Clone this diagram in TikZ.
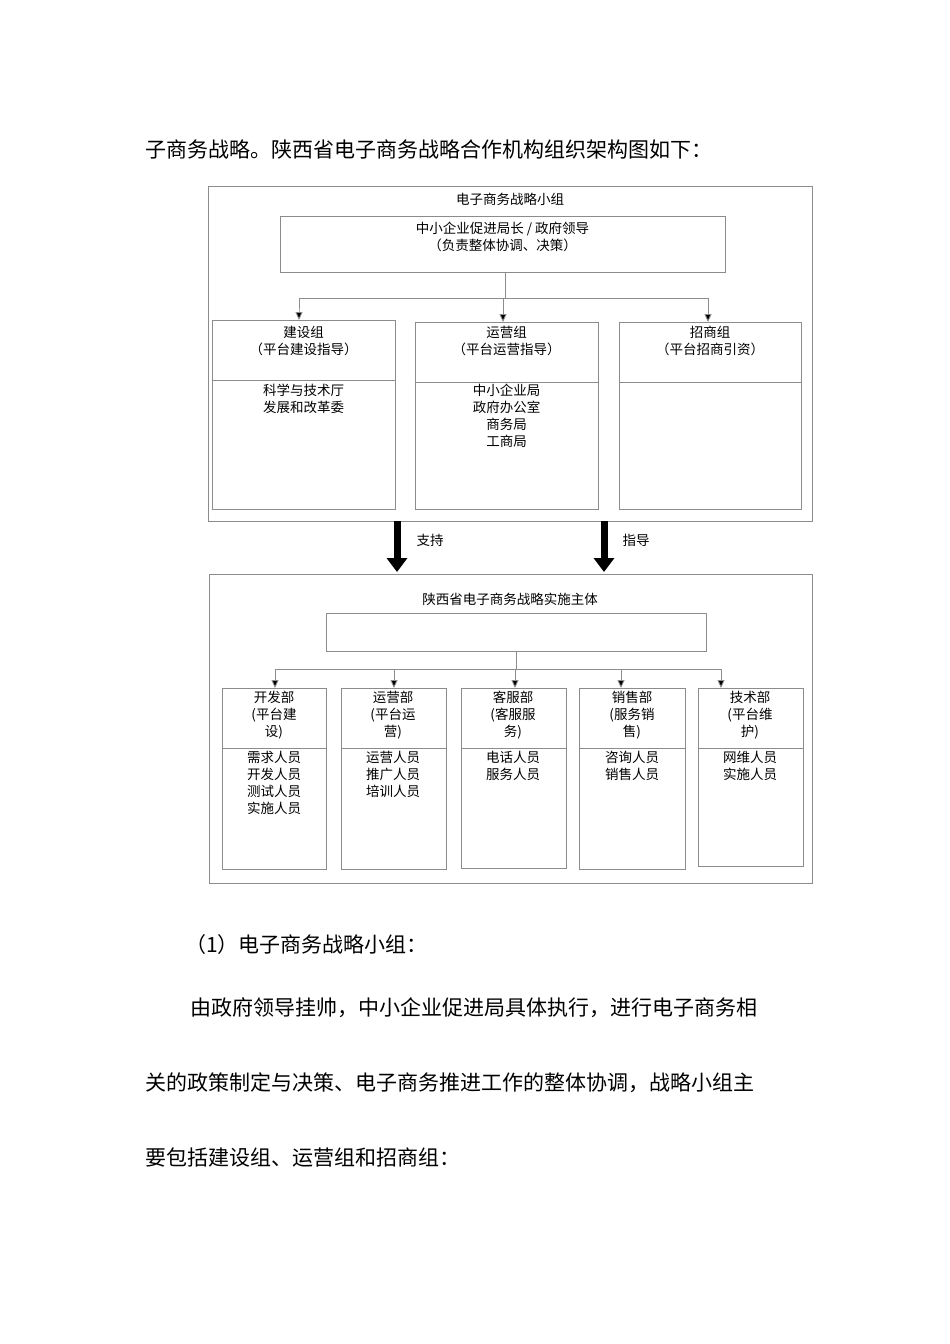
\documentclass[tikz,border=0pt]{standalone}
\usepackage{fontspec}
\setmainfont{Noto Sans CJK SC}
\usetikzlibrary{arrows.meta}
\begin{document}
\begin{tikzpicture}[x=1pt,y=-1pt,
  bx/.style={draw=black!45,line width=0.8pt},
  ln/.style={draw=black!45,line width=0.8pt},
  arr/.style={ln,-{Triangle[length=8pt,width=7pt,fill=black]}},
  big/.style={draw=black,line width=7pt,-{Triangle[length=14pt,width=20pt]}},
  t/.style={font=\fontsize{13.5}{17}\selectfont,inner sep=0pt,align=center},
  para/.style={font=\fontsize{21}{24}\selectfont,inner sep=0pt,anchor=west}]
\useasboundingbox (0,0) rectangle (950,1344);
\fill[white] (0,0) rectangle (950,1344);
\node[para] (p0) at (145,150) {子商务战略。陕西省电子商务战略合作机构组织架构图如下：};
% top group
\draw[bx] (208,186) rectangle (812,521);
\node[t] (tt) at (510,199) {电子商务战略小组};
\node[bx,minimum width=445pt,minimum height=56pt,inner sep=0pt] (lead) at (502.5,244) {};
\node[t] at (502.5,237) {中小企业促进局长 / 政府领导\\（负责整体协调、决策）};
\coordinate (j1) at (505,298);
\draw[ln] (lead.south -| j1) -- (j1);
\node[bx,minimum width=183pt,minimum height=189pt,inner sep=0pt] (g1) at (303.5,414.5) {};
\node[bx,minimum width=183pt,minimum height=187pt,inner sep=0pt] (g2) at (506.5,415.5) {};
\node[bx,minimum width=182pt,minimum height=187pt,inner sep=0pt] (g3) at (710,415.5) {};
\draw[ln] (g1.west |- 0,380) -- (g1.east |- 0,380);
\draw[ln] (g2.west |- 0,382) -- (g2.east |- 0,382);
\draw[ln] (g3.west |- 0,382) -- (g3.east |- 0,382);
\draw[arr] (j1) -- (299,298) -- (299,318) -- (299,320);
\draw[arr] (j1) -- (503,298) -- (503,322);
\draw[arr] (j1) -- (708,298) -- (708,322);
\node[t] at (303.5,341) {建设组\\（平台建设指导）};
\node[t] at (506.5,341) {运营组\\（平台运营指导）};
\node[t] at (710,341) {招商组\\（平台招商引资）};
\node[t,anchor=north] at (303.5,384) {科学与技术厅\\发展和改革委};
\node[t,anchor=north] at (506.5,384) {中小企业局\\政府办公室\\商务局\\工商局};
% big arrows
\coordinate (a1) at (397,521); \coordinate (a2) at (604,521);
\coordinate (b1) at (397,572); \coordinate (b2) at (604,572);
\draw[big] (a1) -- (b1);
\draw[big] (a2) -- (b2);
\node[t] at (430,540) {支持};
\node[t] at (636,540) {指导};
% bottom group
\draw[bx] (209,574) rectangle (812,883);
\node[t] at (510,599) {陕西省电子商务战略实施主体};
\node[bx,minimum width=380pt,minimum height=38pt,inner sep=0pt] (main) at (516,632) {};
\coordinate (j2) at (516,669);
\draw[ln] (main.south -| j2) -- (j2);
\foreach \n/\x/\l/\r/\b/\ax/\h/\body in {
 d1/274/222/326/869/275/{开发部\\(平台建\\设)}/{需求人员\\开发人员\\测试人员\\实施人员},
 d2/393/341/446/869/394/{运营部\\(平台运\\营)}/{运营人员\\推广人员\\培训人员},
 d3/513/461/566/868/515/{客服部\\(客服服\\务)}/{电话人员\\服务人员},
 d4/632/579/685/869/621/{销售部\\(服务销\\售)}/{咨询人员\\销售人员},
 d5/750/698/803/866/721/{技术部\\(平台维\\护)}/{网维人员\\实施人员}}{
  \draw[bx] (\l,688) rectangle (\r,\b);
  \draw[ln] (\l,748) -- (\r,748);
  \node[t,anchor=north] (\n h) at (\x,691) {\h};
  \node[t,anchor=north] (\n b) at (\x,751) {\body};
  \draw[arr] (j2) -- (\ax,669) -- (\ax,688);
}
\node[para] (p1) at (185,945) {（1）电子商务战略小组：};
\node[para] (p2) at (190,1008) {由政府领导挂帅，中小企业促进局具体执行，进行电子商务相};
\node[para] (p3) at (145,1083) {关的政策制定与决策、电子商务推进工作的整体协调，战略小组主};
\node[para] (p4) at (145,1157) {要包括建设组、运营组和招商组：};
\end{tikzpicture}
\end{document}
